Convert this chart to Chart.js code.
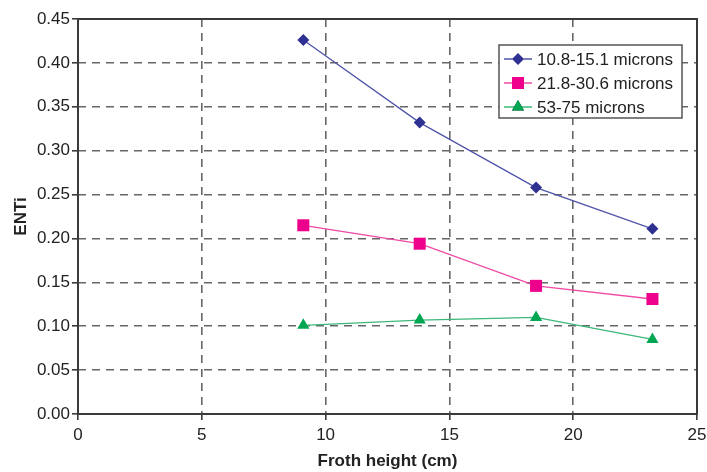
<!DOCTYPE html>
<html>
<head>
<meta charset="utf-8">
<script src="https://cdn.jsdelivr.net/npm/chart.js@4"></script>
<style>
  body { margin: 0; background: #fff; }
  canvas { display: block; }
</style>
</head>
<body>
<canvas id="chart" width="707" height="472"></canvas>
<script>
// Data
const frothHeight = [9.1, 13.8, 18.5, 23.2];
const seriesLabels = ["10.8-15.1 microns", "21.8-30.6 microns", "53-75 microns"];
const fineValues = [0.426, 0.332, 0.258, 0.211];
const mediumValues = [0.215, 0.194, 0.146, 0.131];
const coarseValues = [0.101, 0.107, 0.110, 0.085];

const toPoints = (ys) => ys.map((y, i) => ({ x: frothHeight[i], y: y }));

const FONT = "'Liberation Sans', Arial, Helvetica, sans-serif";

// Cadre noir autour de la zone du graphique
const frame = {
  id: "frame",
  afterDatasetsDraw(chart) {
    const { ctx, chartArea: a } = chart;
    ctx.save();
    ctx.strokeStyle = "#3a3a3a";
    ctx.lineWidth = 2;
    ctx.strokeRect(a.left, a.top, a.right - a.left, a.bottom - a.top);
    ctx.restore();
  },
};

// Légende dans la zone du graphique (en haut à droite)
const boxLegend = {
  id: "boxLegend",
  afterDraw(chart) {
    const { ctx, chartArea: a } = chart;
    const x = a.right - 198;
    const y = a.top + 26;
    const w = 183;
    const h = 73;
    ctx.save();
    ctx.fillStyle = "#fff";
    ctx.fillRect(x, y, w, h);
    ctx.strokeStyle = "#555";
    ctx.lineWidth = 1.5;
    ctx.strokeRect(x, y, w, h);
    chart.data.datasets.forEach((ds, i) => {
      const cy = y + 14 + i * 24;
      ctx.strokeStyle = ds.borderColor;
      ctx.lineWidth = 1.5;
      ctx.beginPath();
      ctx.moveTo(x + 5, cy);
      ctx.lineTo(x + 33, cy);
      ctx.stroke();
      Chart.helpers.drawPoint(ctx, {
        pointStyle: ds.pointStyle,
        radius: ds.pointRadius,
        borderWidth: 0,
      }, x + 19, cy);
      ctx.fillStyle = ds.pointBackgroundColor;
      ctx.fill();
      ctx.fillStyle = "#222";
      ctx.font = "17px " + FONT;
      ctx.textBaseline = "middle";
      ctx.textAlign = "left";
      ctx.fillText(ds.label, x + 38, cy + 1);
    });
    ctx.restore();
  },
};

const gridOpts = {
  color: "#666",
  lineWidth: 1.6,
  tickLength: 6,
  tickColor: "#3a3a3a",
  tickWidth: 1.6,
  tickBorderDash: [],
};

const ctx = document.getElementById("chart").getContext("2d");
new Chart(ctx, {
  type: "line",
  data: {
    datasets: [
      {
        label: seriesLabels[0],
        data: toPoints(fineValues),
        borderColor: "#5055a8",
        borderWidth: 1.3,
        pointStyle: "rectRot",
        pointRadius: 6,
        pointBackgroundColor: "#2e3192",
        pointBorderWidth: 0,
      },
      {
        label: seriesLabels[1],
        data: toPoints(mediumValues),
        borderColor: "#ee4aa5",
        borderWidth: 1.3,
        pointStyle: "rect",
        pointRadius: 8.5,
        pointBackgroundColor: "#ec008c",
        pointBorderWidth: 0,
      },
      {
        label: seriesLabels[2],
        data: toPoints(coarseValues),
        borderColor: "#3cb878",
        borderWidth: 1.3,
        pointStyle: "triangle",
        pointRadius: 7,
        pointBackgroundColor: "#00a651",
        pointBorderWidth: 0,
      },
    ],
  },
  options: {
    responsive: false,
    animation: false,
    layout: { padding: { top: 19, right: 10, left: 0, bottom: 0 } },
    plugins: {
      legend: { display: false },
      tooltip: { enabled: false },
    },
    scales: {
      x: {
        type: "linear",
        min: 0,
        max: 25,
        afterFit: (scale) => {
          scale.height = 58;
          scale.paddingRight = 0;
          scale.paddingLeft = 0;
        },
        ticks: {
          stepSize: 5,
          color: "#222",
          padding: 5,
          font: { family: FONT, size: 17 },
          maxRotation: 0,
        },
        grid: gridOpts,
        border: { display: false, dash: [8, 6] },
        title: {
          display: true,
          text: "Froth height (cm)",
          color: "#222",
          font: { family: FONT, size: 17, weight: "bold" },
          padding: { top: 0, bottom: 0 },
        },
      },
      y: {
        min: 0,
        max: 0.45,
        afterFit: (scale) => { scale.width = 78; },
        ticks: {
          stepSize: 0.05,
          color: "#222",
          padding: 2,
          font: { family: FONT, size: 17 },
          callback: (v) => v.toFixed(2),
        },
        grid: gridOpts,
        border: { display: false, dash: [8, 6] },
        title: {
          display: true,
          text: "ENTi",
          color: "#222",
          font: { family: FONT, size: 17, weight: "bold" },
          padding: { top: 11, bottom: 0 },
        },
      },
    },
  },
  plugins: [frame, boxLegend],
});
</script>
</body>
</html>
